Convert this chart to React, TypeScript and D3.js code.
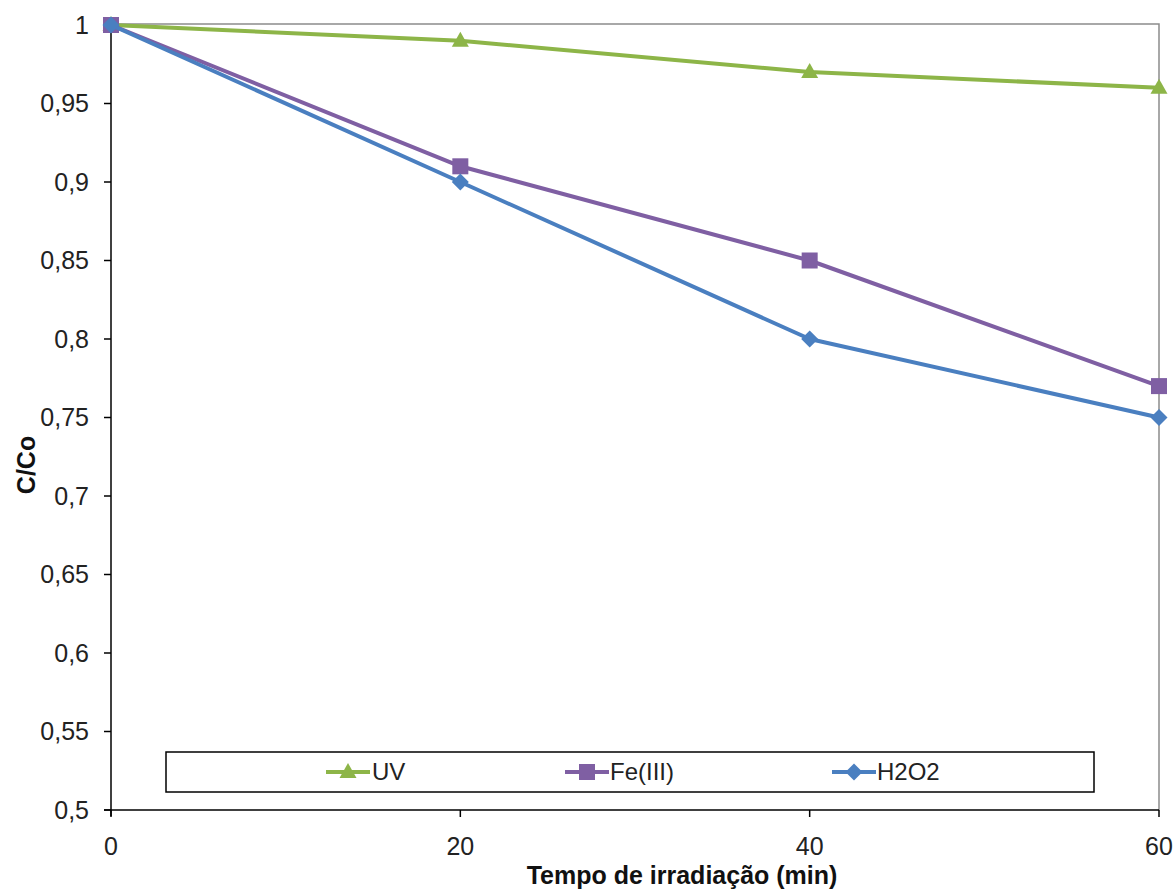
import React from "react";
import * as d3 from "d3";

const times = [0, 20, 40, 60];
const uvValues = [1, 0.99, 0.97, 0.96];
const feValues = [1, 0.91, 0.85, 0.77];
const h2o2Values = [1, 0.9, 0.8, 0.75];
const xTicks = [0, 20, 40, 60];
const yTicks = [0.5, 0.55, 0.6, 0.65, 0.7, 0.75, 0.8, 0.85, 0.9, 0.95, 1];

const series = [
  { name: "UV", values: uvValues, color: "#8DB548", marker: "triangle" },
  { name: "Fe(III)", values: feValues, color: "#7F5FA3", marker: "square" },
  { name: "H2O2", values: h2o2Values, color: "#4A7FC0", marker: "diamond" },
];

const W = 1176, H = 894;
const left = 111, right = 1159, top = 25, bottom = 810;

function Marker({ type, x, y, color }: { type: string; x: number; y: number; color: string }) {
  if (type === "triangle") {
    return <path d={`M${x},${y - 9}L${x + 8.5},${y + 6}L${x - 8.5},${y + 6}Z`} fill={color} />;
  }
  if (type === "square") {
    const s = 8;
    return <rect x={x - s} y={y - s} width={2 * s} height={2 * s} fill={color} />;
  }
  const s = 8.5;
  return <path d={`M${x},${y - s}L${x + s},${y}L${x},${y + s}L${x - s},${y}Z`} fill={color} />;
}

export default function App() {
  const x = d3.scaleLinear().domain([0, 60]).range([left, right]);
  const y = d3.scaleLinear().domain([0.5, 1]).range([bottom, top]);
  const fmt = (v: number) => d3.format(".2~f")(v).replace(".", ",");
  const line = d3.line<number>().x((_, i) => x(times[i])).y((d) => y(d));
  const font = "'Liberation Sans', Arial, sans-serif";
  const legendItems = [
    { lx: 326, tx: 372 },
    { lx: 565, tx: 610 },
    { lx: 832, tx: 877 },
  ];
  return (
    <svg width={W} height={H} style={{ position: "absolute", left: 0, top: 0 }} fontFamily={font}>
      <rect width={W} height={H} fill="#fff" />
      <path d={`M${left},${top - 1}H${right}V${bottom}`} fill="none" stroke="#8c8c8c" strokeWidth={1.5} />
      <line x1={left} x2={left} y1={top - 1} y2={bottom + 6} stroke="#000" strokeWidth={1.5} />
      <line x1={left - 7} x2={right} y1={bottom} y2={bottom} stroke="#000" strokeWidth={1.5} />
      {yTicks.map((t) => (
        <g key={t}>
          <line x1={left - 7} x2={left} y1={y(t)} y2={y(t)} stroke="#000" strokeWidth={1.5} />
          <text x={89} y={y(t)} dy="0.35em" textAnchor="end" fontSize={25} fill="#222">{fmt(t)}</text>
        </g>
      ))}
      {xTicks.map((t) => (
        <g key={t}>
          <line x1={x(t)} x2={x(t)} y1={bottom} y2={bottom + 7} stroke="#000" strokeWidth={1.5} />
          <text x={x(t)} y={855} textAnchor="middle" fontSize={25} fill="#222">{t}</text>
        </g>
      ))}
      <text x={682} y={884} textAnchor="middle" fontSize={25} fontWeight="bold" fill="#111">Tempo de irradiação (min)</text>
      <text transform="translate(35,465) rotate(-90)" textAnchor="middle" fontSize={25} fontWeight="bold" fill="#111">C/Co</text>
      {series.map((s) => (
        <g key={s.name}>
          <path d={line(s.values) || ""} fill="none" stroke={s.color} strokeWidth={4} strokeLinejoin="round" />
          {s.values.map((v, i) => (
            <Marker key={i} type={s.marker} x={x(times[i])} y={y(v)} color={s.color} />
          ))}
        </g>
      ))}
      <rect x={166} y={752} width={928} height={40} fill="#fff" stroke="#000" strokeWidth={1.5} />
      {series.map((s, i) => {
        const it = legendItems[i];
        return (
          <g key={s.name}>
            <line x1={it.lx} x2={it.lx + 44} y1={772} y2={772} stroke={s.color} strokeWidth={4} />
            <Marker type={s.marker} x={it.lx + 22} y={772} color={s.color} />
            <text x={it.tx} y={772} dy="0.35em" fontSize={24} fill="#222">{s.name}</text>
          </g>
        );
      })}
    </svg>
  );
}
